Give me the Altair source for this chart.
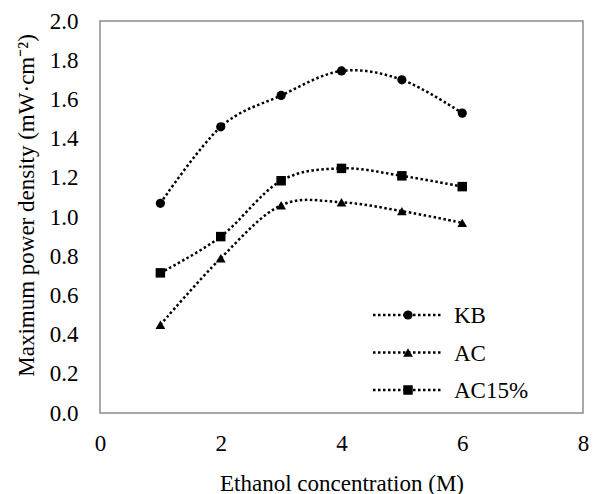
import altair as alt
import pandas as pd

# Data
concentration = [1, 2, 3, 4, 5, 6]
series_names = ["KB", "AC", "AC15%"]
kb = [1.07, 1.46, 1.62, 1.745, 1.70, 1.53]
ac = [0.45, 0.79, 1.06, 1.075, 1.03, 0.97]
ac15 = [0.715, 0.90, 1.185, 1.248, 1.21, 1.155]
x_ticks = [0, 2, 4, 6, 8]
y_ticks = [0.0, 0.2, 0.4, 0.6, 0.8, 1.0, 1.2, 1.4, 1.6, 1.8, 2.0]

shapes = ["circle", "triangle-up", "square"]
sizes = [85, 95, 90]

rows = []
for name, vals in zip(series_names, [kb, ac, ac15]):
    for c, v in zip(concentration, vals):
        rows.append({"conc": c, "mpd": v, "series": name})
df = pd.DataFrame(rows)

FONT = "Liberation Serif"
W, H = 483, 392

x_enc = alt.X(
    "conc:Q",
    scale=alt.Scale(domain=[0, 8], nice=False),
    axis=alt.Axis(
        values=x_ticks, format="d", title="Ethanol concentration (M)", grid=False,
        domain=False, ticks=False, labelPadding=19, labelFontSize=23,
        titleFontSize=23, titleFontWeight="normal", titleY=77,
        titleBaseline="alphabetic", labelFont=FONT, titleFont=FONT,
        labelColor="black", titleColor="black", labelOverlap=False,
        labelFlush=False,
    ),
)
y_enc = alt.Y(
    "mpd:Q",
    scale=alt.Scale(domain=[0, 2], nice=False),
    axis=alt.Axis(
        values=y_ticks, format=".1f", title="Maximum power density (mW·cm⁻²)",
        grid=False, domain=False, ticks=False, labelPadding=22,
        labelFontSize=23, titleFontSize=23, titleFontWeight="normal",
        titleX=-67, titleY=184, titleAngle=-90, titleAlign="center",
        titleBaseline="alphabetic", labelFont=FONT, titleFont=FONT,
        labelColor="black", titleColor="black", labelOverlap=False,
        labelFlush=False, labelSeparation=0,
    ),
)

base = alt.Chart(df)
lines = base.mark_line(
    interpolate="cardinal", color="black", strokeWidth=2.5,
    strokeDash=[2.5, 2.5],
).encode(x=x_enc, y=y_enc, detail="series:N")

layers = [lines]
for name, shp, sz in zip(series_names, shapes, sizes):
    layers.append(
        alt.Chart(df[df["series"] == name]).mark_point(
            shape=shp, filled=True, color="black", opacity=1, size=sz
        ).encode(x=x_enc, y=y_enc)
    )

# Manual legend (line + marker + label), placed in the lower right of the plot
leg_y0, leg_dy = 294, 37.5
for i, (name, shp, sz) in enumerate(zip(series_names, shapes, sizes)):
    ly = leg_y0 + i * leg_dy
    ld = pd.DataFrame({"series": [name]})
    layers.append(
        alt.Chart(ld).mark_rule(
            color="black", strokeWidth=2.5, strokeDash=[2.5, 2.5]
        ).encode(x=alt.value(273), x2=alt.value(343), y=alt.value(ly))
    )
    layers.append(
        alt.Chart(ld).mark_point(
            shape=shp, filled=True, color="black", opacity=1, size=sz
        ).encode(x=alt.value(308), y=alt.value(ly))
    )
    layers.append(
        alt.Chart(ld).mark_text(
            align="left", baseline="middle", font=FONT, fontSize=23,
            color="black", dy=1,
        ).encode(x=alt.value(354), y=alt.value(ly), text="series:N")
    )

chart = alt.layer(*layers).properties(
    width=W, height=H,
    padding={"left": 100, "top": 21, "right": 11, "bottom": 81},
    autosize=alt.AutoSizeParams(type="none"),
    background="white",
).configure_view(
    stroke="#8c8c8c", strokeWidth=1.5
).configure_text(font=FONT).configure_axis(
    labelFont=FONT, titleFont=FONT, labelOverlap=False
)

chart.save("out.html", embed_options={"renderer": "svg", "actions": False})
